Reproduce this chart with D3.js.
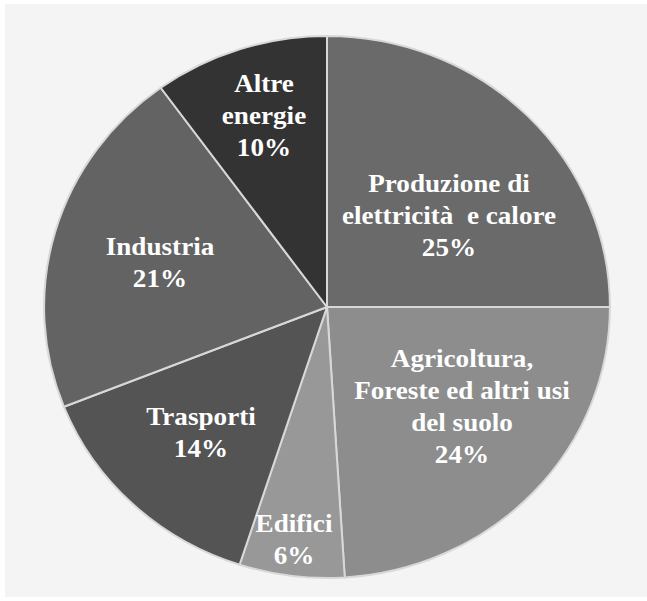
<!DOCTYPE html>
<html>
<head>
<meta charset="utf-8">
<script src="https://cdn.jsdelivr.net/npm/d3@7"></script>
<style>
  html, body { margin: 0; padding: 0; background: #ffffff; }
  svg { display: block; }
  text { white-space: pre; }
</style>
</head>
<body>
<div id="chart"></div>
<script>
// Emissioni di gas serra per settore (quota percentuale)
const categories = [
  "Produzione di elettricità e calore",
  "Agricoltura, Foreste ed altri usi del suolo",
  "Edifici",
  "Trasporti",
  "Industria",
  "Altre energie"
];
const values = [25, 24, 6, 14, 21, 10];
const labelLines = [
  ["Produzione di", "elettricità  e calore", "25%"],
  ["Agricoltura,", "Foreste ed altri usi", "del suolo", "24%"],
  ["Edifici", "6%"],
  ["Trasporti", "14%"],
  ["Industria", "21%"],
  ["Altre", "energie", "10%"]
];
const sliceColors = ["#6a6a6a", "#8d8d8d", "#989898", "#545454", "#636363", "#333333"];

// Label anchors: centre x and first-line baseline, in page pixels
const labelAnchor = [
  [449, 192], [462, 367], [294, 532], [201, 425], [160, 255], [264, 92]
];

const W = 647, H = 601;
const cx = 327, cy = 307;
const R = 271;          // vertical radius
const stretchX = 1.044; // the disc is slightly wider than tall
const lineGap = 32;

const svg = d3.select("#chart").append("svg")
  .attr("width", W).attr("height", H);

svg.append("rect")
  .attr("x", 5).attr("y", 4)
  .attr("width", W - 5).attr("height", H - 8)
  .attr("fill", "#f4f4f4");

const pie = d3.pie().sort(null).value(d => d)
  .startAngle(0).endAngle(2 * Math.PI);
const arc = d3.arc().innerRadius(0).outerRadius(R);

const disc = svg.append("g")
  .attr("transform", `translate(${cx},${cy}) scale(${stretchX},1)`);

disc.selectAll("path")
  .data(pie(values))
  .join("path")
  .attr("d", arc)
  .attr("fill", (d, i) => sliceColors[i])
  .attr("stroke", "#d8d8d8")
  .attr("stroke-width", 2)
  .attr("vector-effect", "non-scaling-stroke")
  .attr("stroke-linejoin", "round");

const labels = svg.selectAll("g.label")
  .data(categories)
  .join("g")
  .attr("class", "label")
  .attr("transform", (d, i) =>
    `translate(${labelAnchor[i][0]},${labelAnchor[i][1]}) scale(${stretchX},1)`);

labels.each(function(d, i) {
  d3.select(this).selectAll("text")
    .data(labelLines[i])
    .join("text")
    .attr("x", 0)
    .attr("y", (t, j) => j * lineGap)
    .attr("text-anchor", "middle")
    .attr("font-family", "'Liberation Serif', 'Times New Roman', serif")
    .attr("font-weight", "bold")
    .attr("font-size", 26)
    .attr("fill", "#ffffff")
    .text(t => t);
});
</script>
</body>
</html>
